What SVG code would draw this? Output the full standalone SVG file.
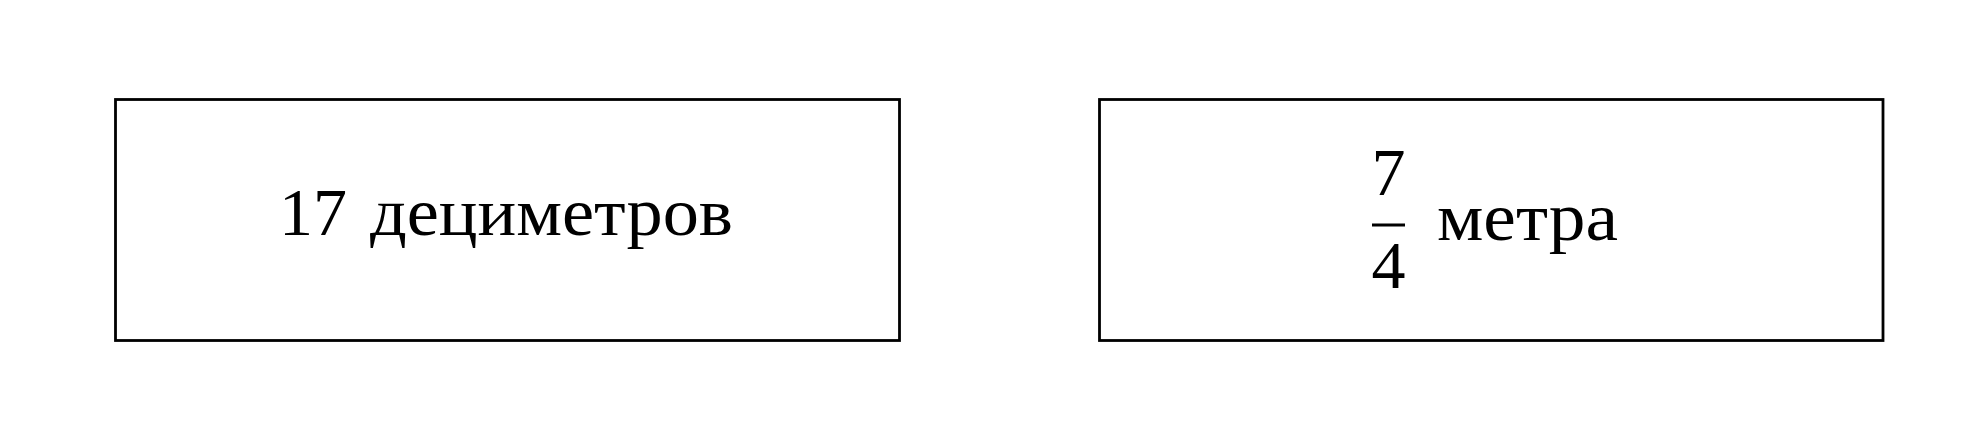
<svg xmlns="http://www.w3.org/2000/svg" width="1969" height="441" viewBox="0 0 1969 441">
<style>
.box{fill:#fff;stroke:#000;stroke-width:2.8}
.t{font-family:"Liberation Serif","DejaVu Serif",serif;font-size:68px;fill:#000}
</style>
<rect width="1969" height="441" fill="#fff"/>
<g id="node1">
<rect class="box" x="115.5" y="99.5" width="784" height="241"/>
<text class="t" x="279" y="235">17</text>
<text class="t" x="370" y="235" textLength="363" lengthAdjust="spacingAndGlyphs">дециметров</text>
</g>
<g id="node2">
<rect class="box" x="1099.5" y="99.5" width="783.5" height="241"/>
<text class="t" x="1388.5" y="195" text-anchor="middle">7</text>
<line x1="1372" y1="225" x2="1405" y2="225" stroke="#000" stroke-width="2.8"/>
<text class="t" x="1388.5" y="288" text-anchor="middle">4</text>
<text class="t" x="1437" y="240" textLength="181" lengthAdjust="spacingAndGlyphs">метра</text>
</g>
<g id="connectors"></g>
</svg>
